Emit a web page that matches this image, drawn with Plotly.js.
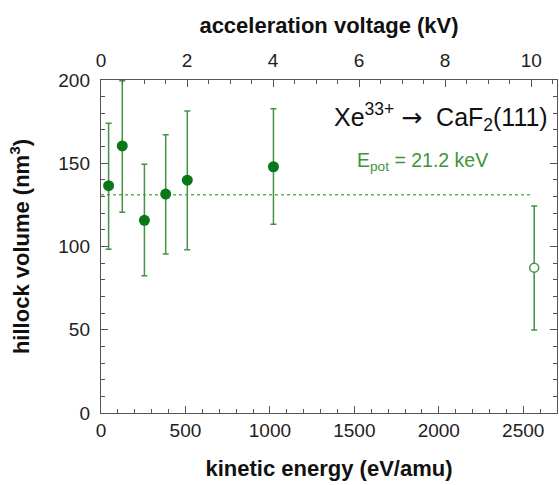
<!DOCTYPE html>
<html>
<head>
<meta charset="utf-8">
<script src="https://cdn.plot.ly/plotly-3.0.1.min.js"></script>
<style>html,body{margin:0;padding:0;background:#fff;}#chart{width:559px;height:485px;}</style>
</head>
<body>
<div id="chart"></div>
<script>
// kinetic energy (eV/amu) and hillock volume (nm^3)
const energyFilled = [45, 126, 257, 383, 511, 1021];
const volumeFilled = [136.5, 160.4, 115.7, 131.5, 139.8, 147.9];
const errPlusFilled = [37.5, 39.2, 33.7, 35.6, 41.6, 34.9];
const errMinusFilled = [38.2, 39.9, 33.2, 36.0, 41.7, 34.6];

const energyOpen = [2565];
const volumeOpen = [87.3];
const errPlusOpen = [37.0];
const errMinusOpen = [37.5];

// mean level line (E_pot = 21.2 keV)
const meanLineX = [0, 2550];
const meanLineY = [131.1, 131.1];

// acceleration voltage axis (kV)
const voltageTicks = [0, 2, 4, 6, 8, 10];
const voltageRange = [0, 10.6];
const energyRange = [0, 2700];

const green = 'rgb(10,120,25)';
const barGreen = 'rgb(70,145,70)';
const font = 'Liberation Sans, Arial, sans-serif';

const traces = [
  {
    x: meanLineX, y: meanLineY, mode: 'lines', xaxis: 'x', yaxis: 'y',
    line: {color: 'rgb(100,175,100)', width: 1.5, dash: 'dot'}, hoverinfo: 'skip', showlegend: false
  },
  {
    x: energyFilled, y: volumeFilled, mode: 'markers', xaxis: 'x', yaxis: 'y',
    marker: {color: green, size: 11, line: {width: 0}},
    error_y: {type: 'data', symmetric: false, array: errPlusFilled, arrayminus: errMinusFilled,
      color: barGreen, thickness: 1.5, width: 3},
    showlegend: false
  },
  {
    x: energyOpen, y: volumeOpen, mode: 'markers', xaxis: 'x', yaxis: 'y',
    marker: {color: 'white', size: 9, line: {color: barGreen, width: 1.5}},
    error_y: {type: 'data', symmetric: false, array: errPlusOpen, arrayminus: errMinusOpen,
      color: barGreen, thickness: 1.5, width: 3},
    showlegend: false
  },
  {
    x: voltageTicks, y: voltageTicks.map(() => null), mode: 'markers', xaxis: 'x2', yaxis: 'y',
    marker: {opacity: 0}, hoverinfo: 'skip', showlegend: false
  }
];

const axisLine = '#555';
const tickFont = {family: font, size: 19, color: '#222'};
const titleFont = {family: font, size: 22, color: '#111', weight: 'bold'};

const layout = {
  width: 559, height: 485,
  margin: {l: 101, r: 2, t: 80, b: 72},
  paper_bgcolor: 'white', plot_bgcolor: 'white',
  font: {family: font},
  showlegend: false,
  xaxis: {
    range: energyRange, dtick: 500, tick0: 0,
    showgrid: false, zeroline: false, showline: true, linecolor: axisLine, linewidth: 1.2,
    ticks: 'inside', ticklen: 7, tickcolor: axisLine, tickwidth: 1,
    minor: {dtick: 100, ticks: 'inside', ticklen: 4, tickcolor: axisLine, tickwidth: 1},
    tickfont: tickFont, mirror: false,
    title: {text: 'kinetic energy (eV/amu)', font: titleFont, standoff: 20}
  },
  xaxis2: {
    overlaying: 'x', side: 'top', range: voltageRange, tickvals: voltageTicks,
    showgrid: false, zeroline: false, showline: true, linecolor: axisLine, linewidth: 1.2,
    ticks: 'inside', ticklen: 7, tickcolor: axisLine, tickwidth: 1,
    minor: {dtick: 0.5, ticks: 'inside', ticklen: 4, tickcolor: axisLine, tickwidth: 1},
    tickfont: tickFont, ticklabelstandoff: 4,
    title: {text: 'acceleration voltage (kV)', font: titleFont, standoff: 10}
  },
  yaxis: {
    range: [0, 200], dtick: 50, tick0: 0,
    showgrid: false, zeroline: false, showline: true, linecolor: axisLine, linewidth: 1.2,
    ticks: 'inside', ticklen: 7, tickcolor: axisLine, tickwidth: 1,
    minor: {dtick: 10, ticks: 'inside', ticklen: 4, tickcolor: axisLine, tickwidth: 1},
    tickfont: tickFont, mirror: 'ticks', ticklabelstandoff: 6,
    title: {text: 'hillock volume (nm<sup>3</sup>)', font: titleFont, standoff: 22}
  },
  annotations: [
    {
      xref: 'paper', yref: 'paper', x: 0.985, y: 0.89, xanchor: 'right', yanchor: 'middle',
      text: 'Xe<sup>33+</sup> <span style="font-family:DejaVu Sans">\u2192</span>  CaF<sub>2</sub>(111)', showarrow: false,
      font: {family: font, size: 25, color: '#111'}
    },
    {
      xref: 'paper', yref: 'paper', x: 0.705, y: 0.755, xanchor: 'center', yanchor: 'middle',
      text: 'E<sub>pot</sub> = 21.2 keV', showarrow: false,
      font: {family: font, size: 19.5, color: 'rgb(60,150,60)'}
    }
  ]
};

Plotly.newPlot('chart', traces, layout, {displayModeBar: false, staticPlot: true});
</script>
</body>
</html>
